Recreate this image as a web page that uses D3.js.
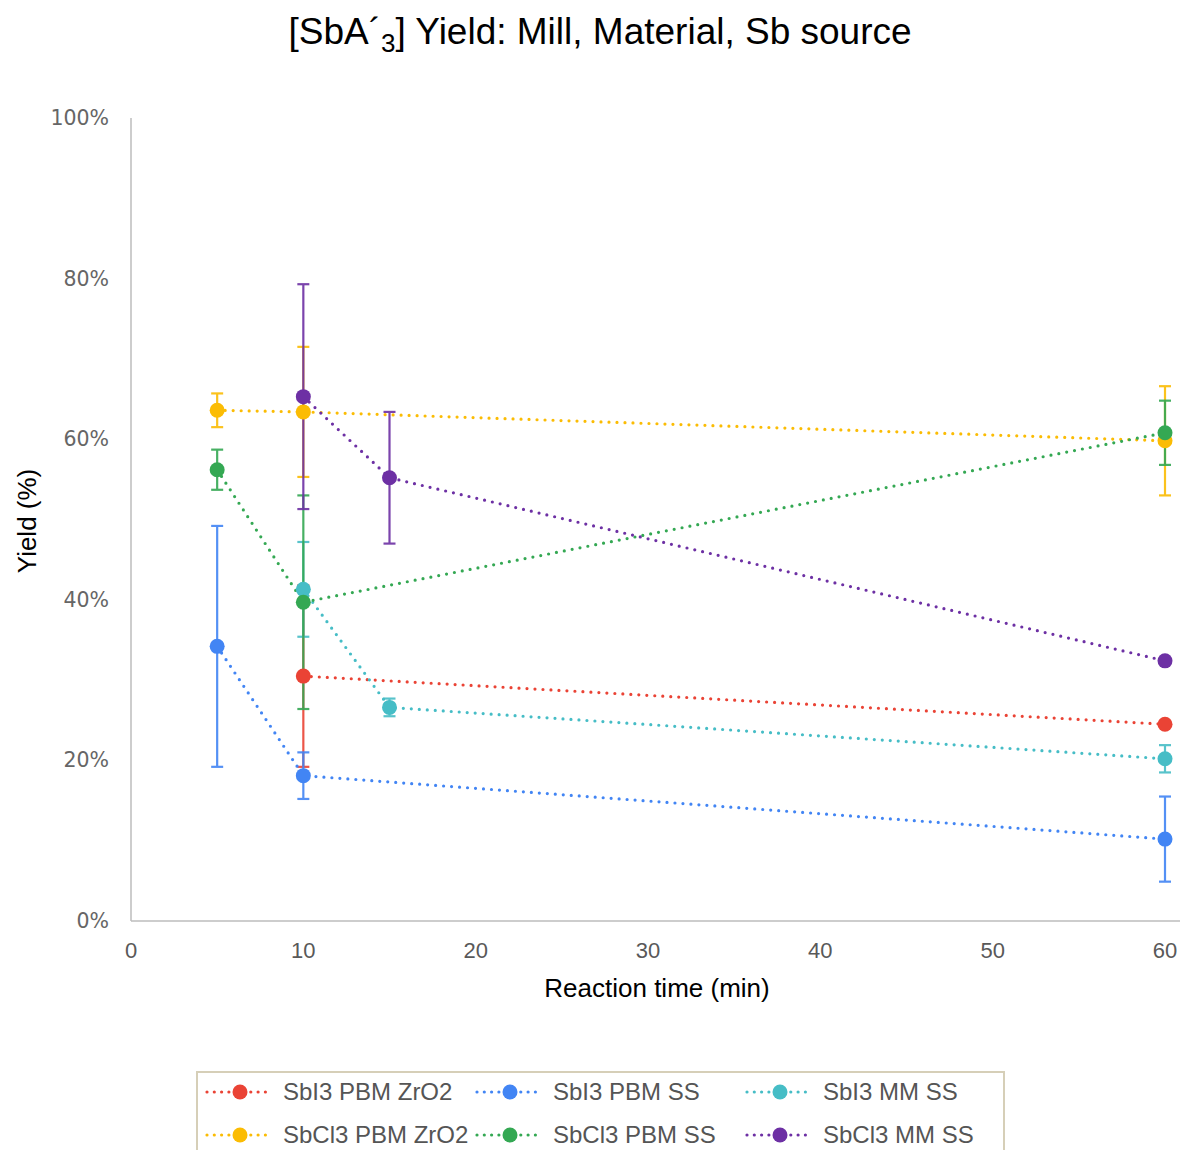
<!DOCTYPE html>
<html>
<head>
<meta charset="utf-8">
<script src="https://cdn.jsdelivr.net/npm/d3@7"></script>
<style>
  html, body { margin: 0; padding: 0; background: #fff; }
  svg { display: block; }
</style>
</head>
<body>
<svg id="chart" width="1182" height="1150"></svg>
<script>
// ---- Data ----
const seriesNames = ["SbI3 PBM ZrO2", "SbI3 PBM SS", "SbI3 MM SS", "SbCl3 PBM ZrO2", "SbCl3 PBM SS", "SbCl3 MM SS"];
const seriesColors = ["#ea4335", "#4285f4", "#46bdc6", "#fbbc04", "#34a853", "#6d30a4"];

const sbi3PbmZro2_x = [10, 60];
const sbi3PbmZro2_y = [30.5, 24.5];
const sbi3PbmZro2_err = [11.3, 0];

const sbi3PbmSs_x = [5, 10, 60];
const sbi3PbmSs_y = [34.2, 18.1, 10.2];
const sbi3PbmSs_err = [15.0, 2.9, 5.3];

const sbi3MmSs_x = [10, 15, 60];
const sbi3MmSs_y = [41.3, 26.6, 20.2];
const sbi3MmSs_err = [5.9, 1.1, 1.7];

const sbcl3PbmZro2_x = [5, 10, 60];
const sbcl3PbmZro2_y = [63.6, 63.4, 59.8];
const sbcl3PbmZro2_err = [2.1, 8.1, 6.8];

const sbcl3PbmSs_x = [5, 10, 60];
const sbcl3PbmSs_y = [56.2, 39.7, 60.8];
const sbcl3PbmSs_err = [2.5, 13.3, 4.0];

const sbcl3MmSs_x = [10, 15, 60];
const sbcl3MmSs_y = [65.3, 55.2, 32.4];
const sbcl3MmSs_err = [14.0, 8.2, 0];

const xTicks = [0, 10, 20, 30, 40, 50, 60];
const yTicks = [0, 20, 40, 60, 80, 100];

const titleParts = ["[SbA´", "3", "] Yield: Mill, Material, Sb source"];
const xAxisTitle = "Reaction time (min)";
const yAxisTitle = "Yield (%)";

// ---- Build series table ----
const seriesX = [sbi3PbmZro2_x, sbi3PbmSs_x, sbi3MmSs_x, sbcl3PbmZro2_x, sbcl3PbmSs_x, sbcl3MmSs_x];
const seriesY = [sbi3PbmZro2_y, sbi3PbmSs_y, sbi3MmSs_y, sbcl3PbmZro2_y, sbcl3PbmSs_y, sbcl3MmSs_y];
const seriesE = [sbi3PbmZro2_err, sbi3PbmSs_err, sbi3MmSs_err, sbcl3PbmZro2_err, sbcl3PbmSs_err, sbcl3MmSs_err];
const series = seriesNames.map((name, i) => ({
  name, color: seriesColors[i],
  pts: seriesX[i].map((x, j) => ({ x, y: seriesY[i][j], e: seriesE[i][j] }))
}));

// ---- Layout ----
const svg = d3.select("#chart");
const x = d3.scaleLinear().domain([0, 60]).range([131, 1165]);
const y = d3.scaleLinear().domain([0, 100]).range([921, 118]);

// Title
const title = svg.append("text")
  .attr("x", 600).attr("y", 44)
  .attr("text-anchor", "middle")
  .attr("font-family", "Liberation Sans, Arial, sans-serif")
  .attr("font-size", 37).attr("fill", "#000");
title.append("tspan").text(titleParts[0]);
title.append("tspan").attr("font-size", 26).attr("dy", 8).text(titleParts[1]);
title.append("tspan").attr("dy", -8).text(titleParts[2]);

// Axes lines
svg.append("line").attr("x1", x(0)).attr("x2", 1180).attr("y1", y(0)).attr("y2", y(0))
  .attr("stroke", "#bdbdbd").attr("stroke-width", 1.5);
svg.append("line").attr("x1", x(0)).attr("x2", x(0)).attr("y1", y(0)).attr("y2", y(100))
  .attr("stroke", "#bdbdbd").attr("stroke-width", 1.5);

// Tick labels
svg.append("g").selectAll("text").data(yTicks).join("text")
  .attr("x", 109).attr("y", d => y(d) + 7)
  .attr("text-anchor", "end")
  .attr("font-family", "DejaVu Sans, sans-serif")
  .attr("font-size", 20.5).attr("fill", "#666")
  .text(d => d + "%");

svg.append("g").selectAll("text").data(xTicks).join("text")
  .attr("x", d => x(d)).attr("y", 958)
  .attr("text-anchor", "middle")
  .attr("font-family", "Liberation Sans, Arial, sans-serif")
  .attr("font-size", 22).attr("fill", "#595959")
  .text(d => d);

// Axis titles
svg.append("text").attr("x", 657).attr("y", 997)
  .attr("text-anchor", "middle")
  .attr("font-family", "Liberation Sans, Arial, sans-serif")
  .attr("font-size", 26).attr("fill", "#000").text(xAxisTitle);
svg.append("text")
  .attr("transform", "translate(36,521) rotate(-90)")
  .attr("text-anchor", "middle")
  .attr("font-family", "Liberation Sans, Arial, sans-serif")
  .attr("font-size", 26).attr("fill", "#000").text(yAxisTitle);

// Error bars
const capW = 6;
series.forEach(s => {
  const g = svg.append("g").attr("stroke", s.color).attr("stroke-width", 2.2).attr("opacity", 0.9);
  s.pts.filter(p => p.e > 0).forEach(p => {
    g.append("line").attr("x1", x(p.x)).attr("x2", x(p.x)).attr("y1", y(p.y - p.e)).attr("y2", y(p.y + p.e));
    g.append("line").attr("x1", x(p.x) - capW).attr("x2", x(p.x) + capW).attr("y1", y(p.y + p.e)).attr("y2", y(p.y + p.e));
    g.append("line").attr("x1", x(p.x) - capW).attr("x2", x(p.x) + capW).attr("y1", y(p.y - p.e)).attr("y2", y(p.y - p.e));
  });
});

// Dotted lines
const line = d3.line().x(p => x(p.x)).y(p => y(p.y));
series.forEach(s => {
  svg.append("path").datum(s.pts).attr("d", line)
    .attr("fill", "none").attr("stroke", s.color)
    .attr("stroke-width", 3.2).attr("stroke-linecap", "round")
    .attr("stroke-dasharray", "0 8");
});

// Points
series.forEach(s => {
  svg.append("g").selectAll("circle").data(s.pts).join("circle")
    .attr("cx", p => x(p.x)).attr("cy", p => y(p.y)).attr("r", 7.5)
    .attr("fill", s.color);
});

// Legend
svg.append("rect").attr("x", 197).attr("y", 1072).attr("width", 807).attr("height", 100)
  .attr("fill", "none").attr("stroke", "#d6cfb8").attr("stroke-width", 2);
const colX = [205, 475, 745];
const rowY = [1092, 1135];
series.forEach((s, i) => {
  const lx = colX[i % 3], ly = rowY[Math.floor(i / 3)];
  svg.append("line").attr("x1", lx + 2).attr("x2", lx + 67).attr("y1", ly).attr("y2", ly)
    .attr("stroke", s.color).attr("stroke-width", 3.2).attr("stroke-linecap", "round")
    .attr("stroke-dasharray", "0 7.3");
  svg.append("circle").attr("cx", lx + 35).attr("cy", ly).attr("r", 7.5).attr("fill", s.color);
  svg.append("text").attr("x", lx + 78).attr("y", ly + 8)
    .attr("font-family", "Liberation Sans, Arial, sans-serif")
    .attr("font-size", 24).attr("fill", "#555").text(s.name);
});
</script>
</body>
</html>
